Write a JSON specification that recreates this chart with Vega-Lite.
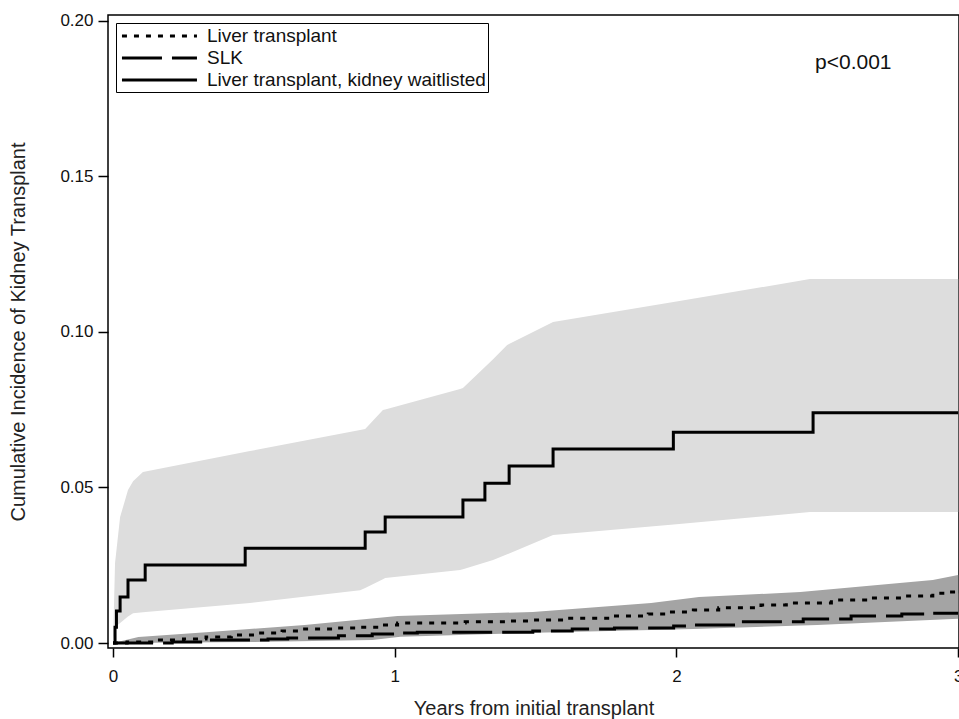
{
  "$schema": "https://vega.github.io/schema/vega-lite/v6.json",
  "width": 851,
  "height": 633,
  "autosize": {"type": "none"},
  "padding": {"left": 108, "top": 15, "right": 0, "bottom": 71},
  "background": "white",
  "config": {
    "view": {"stroke": "black", "strokeWidth": 1.5},
    "font": "Liberation Sans",
    "axis": {"grid": false, "domain": false, "tickColor": "black", "tickWidth": 1.5, "labelColor": "#111", "titleColor": "#222", "titleFontWeight": "normal", "labelFont": "Liberation Sans", "titleFont": "Liberation Sans", "labelFlush": false}
  },
  "datasets": {
    "ci_waitlisted": [
      {"x": 0, "lo": 0, "hi": 0},
      {"x": 0.007, "lo": 0.0051, "hi": 0.0257},
      {"x": 0.025, "lo": 0.0064, "hi": 0.0405},
      {"x": 0.053, "lo": 0.0085, "hi": 0.0492},
      {"x": 0.071, "lo": 0.0096, "hi": 0.052},
      {"x": 0.106, "lo": 0.0099, "hi": 0.055},
      {"x": 0.486, "lo": 0.0129, "hi": 0.0617},
      {"x": 0.877, "lo": 0.017, "hi": 0.0685},
      {"x": 0.895, "lo": 0.0177, "hi": 0.0688},
      {"x": 0.958, "lo": 0.0205, "hi": 0.0749},
      {"x": 0.966, "lo": 0.0209, "hi": 0.0751},
      {"x": 1.232, "lo": 0.0235, "hi": 0.0817},
      {"x": 1.242, "lo": 0.0237, "hi": 0.082},
      {"x": 1.349, "lo": 0.0267, "hi": 0.0912},
      {"x": 1.399, "lo": 0.0285, "hi": 0.0958},
      {"x": 1.562, "lo": 0.0347, "hi": 0.1032},
      {"x": 2.0, "lo": 0.0382, "hi": 0.1098},
      {"x": 2.474, "lo": 0.0421, "hi": 0.117},
      {"x": 3.0, "lo": 0.0421, "hi": 0.117}
    ],
    "ci_liver": [
      {"x": 0, "lo": 0, "hi": 0},
      {"x": 0.09, "lo": 0.0002, "hi": 0.0019},
      {"x": 0.33, "lo": 0.0008, "hi": 0.0035},
      {"x": 0.68, "lo": 0.0018, "hi": 0.0058},
      {"x": 1.01, "lo": 0.003, "hi": 0.0087},
      {"x": 1.49, "lo": 0.0042, "hi": 0.01},
      {"x": 1.91, "lo": 0.0052, "hi": 0.0129},
      {"x": 2.08, "lo": 0.0057, "hi": 0.0148},
      {"x": 2.44, "lo": 0.0068, "hi": 0.0164},
      {"x": 2.91, "lo": 0.0088, "hi": 0.0203},
      {"x": 3.0, "lo": 0.009, "hi": 0.0219}
    ],
    "ci_slk": [
      {"x": 0, "lo": 0, "hi": 0},
      {"x": 0.5, "lo": 0.0003, "hi": 0.0025},
      {"x": 0.92, "lo": 0.001, "hi": 0.0052},
      {"x": 1.02, "lo": 0.002, "hi": 0.0058},
      {"x": 1.5, "lo": 0.0033, "hi": 0.0078},
      {"x": 2.06, "lo": 0.0045, "hi": 0.0105},
      {"x": 2.5, "lo": 0.0058, "hi": 0.0135},
      {"x": 3.0, "lo": 0.0078, "hi": 0.016}
    ],
    "lines": [
      {"series": "Liver transplant, kidney waitlisted", "x": 0, "y": 0},
      {"series": "Liver transplant, kidney waitlisted", "x": 0.007, "y": 0.0051},
      {"series": "Liver transplant, kidney waitlisted", "x": 0.012, "y": 0.0103},
      {"series": "Liver transplant, kidney waitlisted", "x": 0.025, "y": 0.0148},
      {"series": "Liver transplant, kidney waitlisted", "x": 0.053, "y": 0.0203},
      {"series": "Liver transplant, kidney waitlisted", "x": 0.114, "y": 0.0251},
      {"series": "Liver transplant, kidney waitlisted", "x": 0.469, "y": 0.0305},
      {"series": "Liver transplant, kidney waitlisted", "x": 0.895, "y": 0.0357},
      {"series": "Liver transplant, kidney waitlisted", "x": 0.966, "y": 0.0405},
      {"series": "Liver transplant, kidney waitlisted", "x": 1.242, "y": 0.046},
      {"series": "Liver transplant, kidney waitlisted", "x": 1.32, "y": 0.0514},
      {"series": "Liver transplant, kidney waitlisted", "x": 1.406, "y": 0.0569},
      {"series": "Liver transplant, kidney waitlisted", "x": 1.562, "y": 0.0624},
      {"series": "Liver transplant, kidney waitlisted", "x": 1.989, "y": 0.0678},
      {"series": "Liver transplant, kidney waitlisted", "x": 2.485, "y": 0.074},
      {"series": "Liver transplant, kidney waitlisted", "x": 3.0, "y": 0.074},
      {"series": "Liver transplant", "x": 0, "y": 0},
      {"series": "Liver transplant", "x": 0.05, "y": 0.0003},
      {"series": "Liver transplant", "x": 0.15, "y": 0.001},
      {"series": "Liver transplant", "x": 0.25, "y": 0.0013},
      {"series": "Liver transplant", "x": 0.33, "y": 0.0019},
      {"series": "Liver transplant", "x": 0.42, "y": 0.0026},
      {"series": "Liver transplant", "x": 0.51, "y": 0.0032},
      {"series": "Liver transplant", "x": 0.6, "y": 0.0039},
      {"series": "Liver transplant", "x": 0.68, "y": 0.0045},
      {"series": "Liver transplant", "x": 0.78, "y": 0.0048},
      {"series": "Liver transplant", "x": 0.86, "y": 0.0051},
      {"series": "Liver transplant", "x": 0.95, "y": 0.0058},
      {"series": "Liver transplant", "x": 1.01, "y": 0.0064},
      {"series": "Liver transplant", "x": 1.25, "y": 0.0068},
      {"series": "Liver transplant", "x": 1.4, "y": 0.0071},
      {"series": "Liver transplant", "x": 1.49, "y": 0.0074},
      {"series": "Liver transplant", "x": 1.61, "y": 0.008},
      {"series": "Liver transplant", "x": 1.77, "y": 0.0087},
      {"series": "Liver transplant", "x": 1.9, "y": 0.0093},
      {"series": "Liver transplant", "x": 1.97, "y": 0.01},
      {"series": "Liver transplant", "x": 2.06, "y": 0.0106},
      {"series": "Liver transplant", "x": 2.15, "y": 0.0113},
      {"series": "Liver transplant", "x": 2.3, "y": 0.0122},
      {"series": "Liver transplant", "x": 2.39, "y": 0.0129},
      {"series": "Liver transplant", "x": 2.55, "y": 0.0138},
      {"series": "Liver transplant", "x": 2.68, "y": 0.0145},
      {"series": "Liver transplant", "x": 2.8, "y": 0.0151},
      {"series": "Liver transplant", "x": 2.91, "y": 0.016},
      {"series": "Liver transplant", "x": 2.97, "y": 0.0164},
      {"series": "Liver transplant", "x": 3.0, "y": 0.0164},
      {"series": "SLK", "x": 0, "y": 0},
      {"series": "SLK", "x": 0.21, "y": 0.0003},
      {"series": "SLK", "x": 0.33, "y": 0.001},
      {"series": "SLK", "x": 0.55, "y": 0.0013},
      {"series": "SLK", "x": 0.62, "y": 0.0016},
      {"series": "SLK", "x": 0.8, "y": 0.0023},
      {"series": "SLK", "x": 0.92, "y": 0.0029},
      {"series": "SLK", "x": 1.01, "y": 0.0032},
      {"series": "SLK", "x": 1.08, "y": 0.0035},
      {"series": "SLK", "x": 1.49, "y": 0.0039},
      {"series": "SLK", "x": 1.63, "y": 0.0045},
      {"series": "SLK", "x": 1.78, "y": 0.0048},
      {"series": "SLK", "x": 1.99, "y": 0.0055},
      {"series": "SLK", "x": 2.05, "y": 0.0058},
      {"series": "SLK", "x": 2.23, "y": 0.0068},
      {"series": "SLK", "x": 2.45, "y": 0.0077},
      {"series": "SLK", "x": 2.62, "y": 0.0087},
      {"series": "SLK", "x": 2.8, "y": 0.0093},
      {"series": "SLK", "x": 2.9, "y": 0.0096},
      {"series": "SLK", "x": 3.0, "y": 0.0096}
    ],
    "notes": [
      {"x": 2.492, "y": 0.1865, "label": "p<0.001"}
    ]
  },
  "encoding": {
    "x": {"field": "x", "type": "quantitative", "scale": {"domain": [-0.018, 3.003], "nice": false, "zero": false},
      "axis": {"values": [0, 1, 2, 3], "format": "d", "labelFontSize": 17, "tickSize": 9, "labelPadding": 11, "title": "Years from initial transplant", "titleFontSize": 20, "titlePadding": 14}}
  },
  "layer": [
    {
      "data": {"name": "ci_waitlisted"},
      "mark": {"type": "area", "color": "#dddddd", "opacity": 1},
      "encoding": {
        "y": {"field": "hi", "type": "quantitative", "scale": {"domain": [-0.0016, 0.2019], "nice": false, "zero": false},
          "axis": {"values": [0, 0.05, 0.1, 0.15, 0.2], "format": ".2f", "labelFontSize": 17, "tickSize": 10, "labelPadding": 5, "title": "Cumulative Incidence of Kidney Transplant", "titleFontSize": 20, "titlePadding": 31}},
        "y2": {"field": "lo"}
      }
    },
    {
      "data": {"name": "ci_liver"},
      "mark": {"type": "area", "color": "#a4a4a4", "opacity": 1},
      "encoding": {
        "y": {"field": "hi", "type": "quantitative"},
        "y2": {"field": "lo"}
      }
    },
    {
      "data": {"name": "ci_slk"},
      "mark": {"type": "area", "color": "#a4a4a4", "opacity": 1},
      "encoding": {
        "y": {"field": "hi", "type": "quantitative"},
        "y2": {"field": "lo"}
      }
    },
    {
      "data": {"name": "lines"},
      "mark": {"type": "line", "interpolate": "step-after", "strokeWidth": 3, "color": "black", "strokeCap": "butt"},
      "encoding": {
        "y": {"field": "y", "type": "quantitative"},
        "strokeDash": {"field": "series", "type": "nominal",
          "scale": {"domain": ["Liver transplant", "SLK", "Liver transplant, kidney waitlisted"], "range": [[5, 7], [40, 10], [1, 0]]},
          "legend": {"orient": "none", "legendX": 8, "legendY": 8, "title": null, "strokeColor": "black", "fillColor": "white", "padding": 2, "rowPadding": 1,
            "symbolType": "M-0.75,0H7.25", "symbolSize": 351.6, "symbolStrokeWidth": 3, "symbolStrokeColor": "black",
            "labelFontSize": 19, "labelFont": "Liberation Sans", "labelColor": "#111", "labelOffset": 67, "labelLimit": 400}}
      }
    },
    {
      "data": {"name": "notes"},
      "mark": {"type": "text", "align": "left", "baseline": "middle", "fontSize": 21, "font": "Liberation Sans", "color": "#111"},
      "encoding": {
        "y": {"field": "y", "type": "quantitative"},
        "text": {"field": "label"}
      }
    }
  ]
}
